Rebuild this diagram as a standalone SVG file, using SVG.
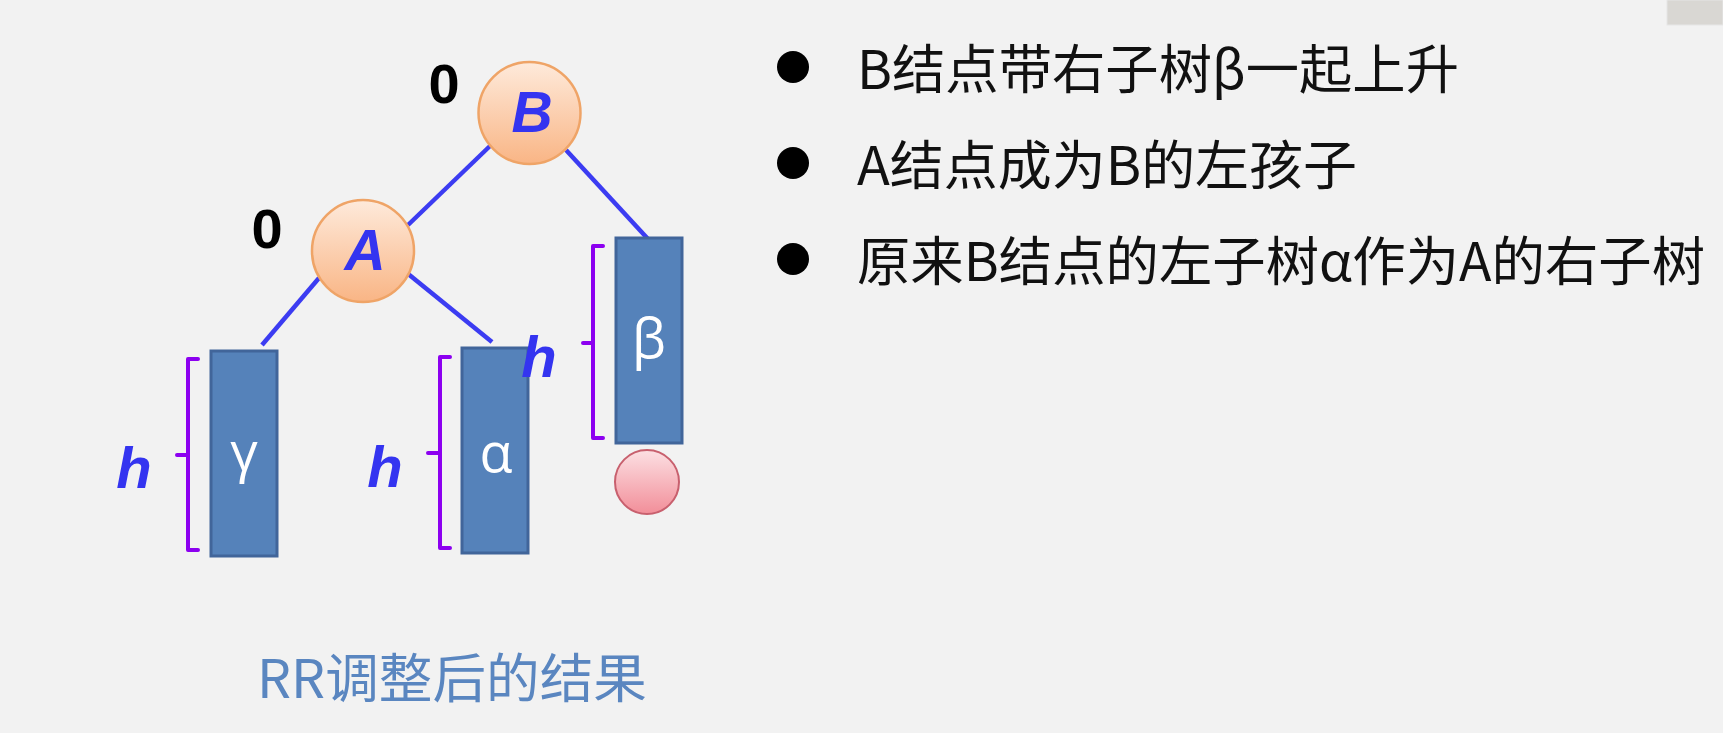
<svg xmlns="http://www.w3.org/2000/svg" width="1723" height="733" viewBox="0 0 1723 733">
  <defs>
    <linearGradient id="orange" x1="0" y1="0" x2="0" y2="1">
      <stop offset="0" stop-color="#FEEADB"/>
      <stop offset="1" stop-color="#F9B585"/>
    </linearGradient>
    <linearGradient id="pink" x1="0" y1="0" x2="0" y2="1">
      <stop offset="0" stop-color="#FCE0E3"/>
      <stop offset="1" stop-color="#F28E99"/>
    </linearGradient>
    <style>
      .node { fill: url(#orange); stroke: #EFA467; stroke-width: 2.5; }
      .nlabel { font-family: "Liberation Sans", Arial, sans-serif; font-weight: bold; font-style: italic; font-size: 57px; fill: #3434F0; text-anchor: middle; }
      .bf { font-family: "Liberation Sans", Arial, sans-serif; font-weight: bold; font-size: 56px; fill: #000; text-anchor: middle; }
      .h { font-family: "Liberation Sans", Arial, sans-serif; font-weight: bold; font-style: italic; font-size: 58px; fill: #3434F0; text-anchor: middle; }
      .sub { fill: #5582BA; stroke: #41659A; stroke-width: 3; }
      .greek { font-family: "Open Sans", "Noto Sans", sans-serif; font-size: 54px; fill: #FFFFFF; text-anchor: middle; }
      .brace { fill: none; stroke: #8C00F0; stroke-width: 4; stroke-linecap: round; stroke-linejoin: round; }
      .edge { stroke: #3C3CF2; stroke-width: 4.5; fill: none; }
      .txt { font-family: "Noto Sans CJK SC", "Noto Sans", sans-serif; font-size: 53px; fill: #111; }
      .cap { font-family: "Noto Sans CJK SC", "Noto Sans", sans-serif; font-size: 53px; fill: #5A86C0; }
    </style>
  </defs>
  <rect x="0" y="0" width="1723" height="733" fill="#F2F2F2"/>
  <rect x="1667" y="0" width="56" height="25" fill="#D9D7D3" stroke="#E6E6E6" stroke-width="1"/>

  <g id="connectors">
    <line class="edge" x1="490" y1="146" x2="408" y2="225"/>
    <line class="edge" x1="566" y1="150" x2="648" y2="239"/>
    <line class="edge" x1="319" y1="278" x2="262" y2="345"/>
    <line class="edge" x1="407" y1="273" x2="492" y2="342"/>
  </g>

  <g id="node-B">
    <circle class="node" cx="529.5" cy="113" r="51"/>
    <text class="nlabel" x="532" y="132">B</text>
    <text class="bf" x="444" y="103">0</text>
  </g>

  <g id="node-A">
    <circle class="node" cx="363" cy="251" r="51"/>
    <text class="nlabel" x="365" y="270">A</text>
    <text class="bf" x="267" y="248">0</text>
  </g>

  <g id="subtree-gamma">
    <rect class="sub" x="211" y="351" width="66" height="205"/>
    <text class="greek" x="244" y="471">γ</text>
    <path class="brace" d="M198,359 H188 V550 H198 M188,455 H177"/>
    <text class="h" x="134" y="488">h</text>
  </g>

  <g id="subtree-alpha">
    <rect class="sub" x="462" y="348" width="66" height="205"/>
    <text class="greek" x="496" y="472">α</text>
    <path class="brace" d="M450,357 H440 V548 H450 M440,453 H428"/>
    <text class="h" x="385" y="487">h</text>
  </g>

  <g id="subtree-beta">
    <rect class="sub" x="616" y="238" width="66" height="205"/>
    <text class="greek" x="649" y="358">β</text>
    <path class="brace" d="M603,246 H593 V438 H603 M593,343 H583"/>
    <text class="h" x="539" y="377">h</text>
  </g>

  <g id="new-node">
    <circle cx="647" cy="482" r="32" fill="url(#pink)" stroke="#C8606E" stroke-width="2"/>
  </g>

  <g id="bullets">
    <circle cx="793" cy="67" r="16" fill="#000"/>
    <text class="txt" x="857" y="89" textLength="602" lengthAdjust="spacingAndGlyphs">B结点带右子树β一起上升</text>
    <circle cx="793" cy="163" r="16" fill="#000"/>
    <text class="txt" x="857" y="185" textLength="500" lengthAdjust="spacingAndGlyphs">A结点成为B的左孩子</text>
    <circle cx="793" cy="259" r="16" fill="#000"/>
    <text class="txt" x="857" y="281" textLength="848" lengthAdjust="spacingAndGlyphs">原来B结点的左子树α作为A的右子树</text>
  </g>

  <g id="caption">
    <text class="cap" x="257" y="698" textLength="390" lengthAdjust="spacingAndGlyphs">RR调整后的结果</text>
  </g>
</svg>
